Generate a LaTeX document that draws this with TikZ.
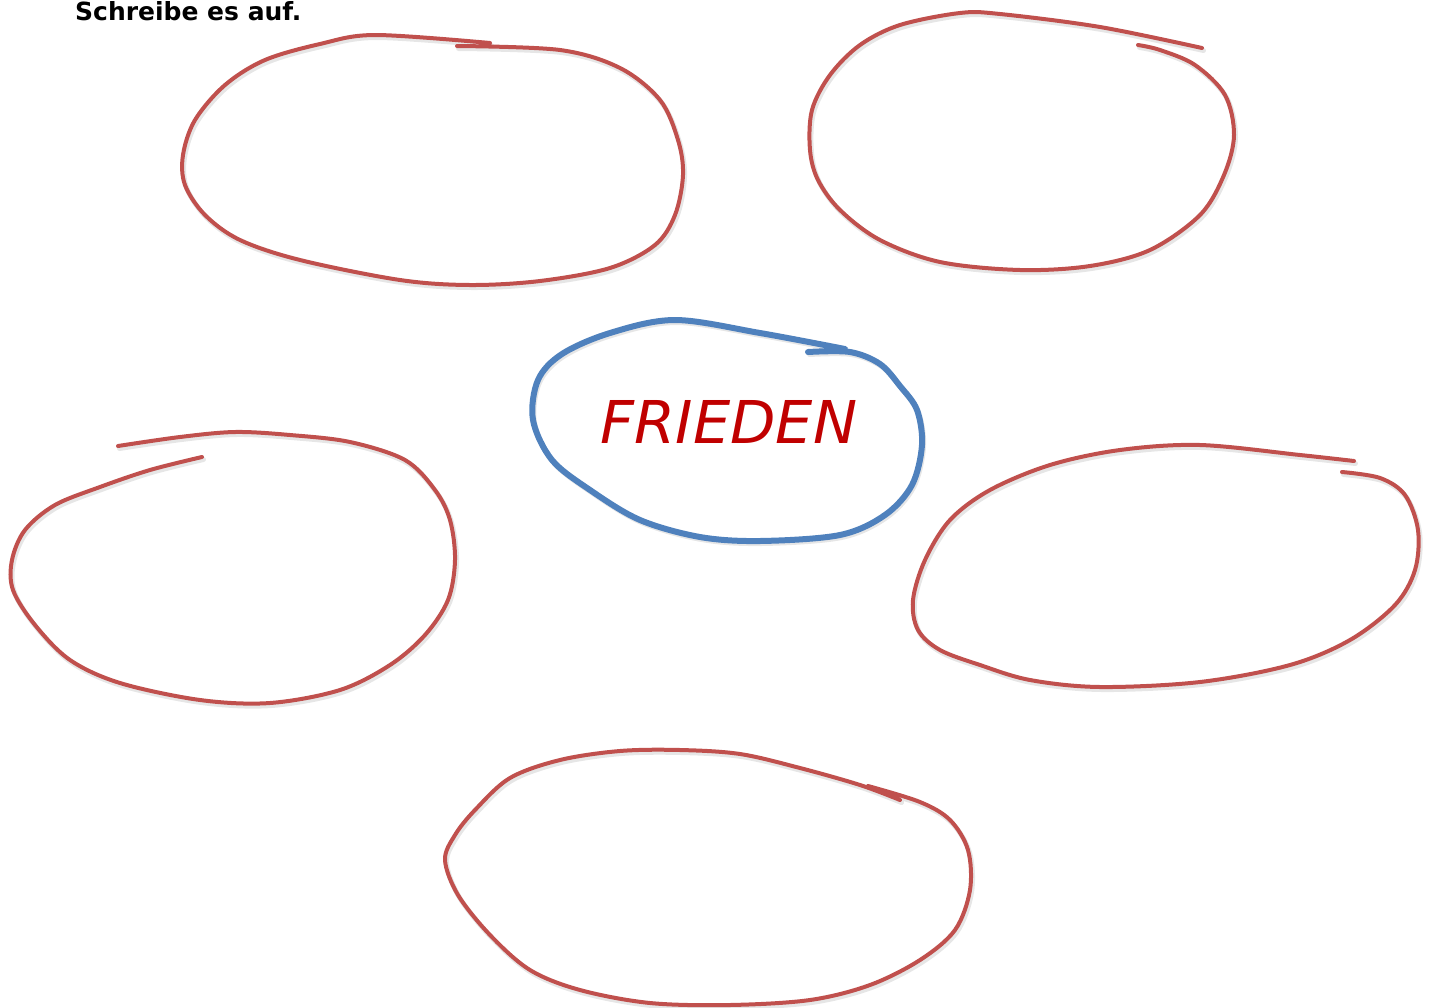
\documentclass[tikz,border=0pt]{standalone}
\usepackage{fontspec}
\setmainfont{DejaVu Sans}
\usepackage{xcolor}
\usepackage{tikz}
\usetikzlibrary{positioning}
\definecolor{penred}{HTML}{C0504D}
\definecolor{penblue}{HTML}{4F81BD}
\definecolor{inkred}{HTML}{C00000}
\definecolor{shade}{HTML}{B8B8B8}

\begin{document}
\begin{tikzpicture}[x=1pt,y=-1pt,
  bubble/.style={draw=penred,line width=4pt,line cap=round,line join=round},
  core/.style={draw=penblue,line width=6pt,line cap=round,line join=round},
  shadow/.style={draw=shade,opacity=0.35,line width=5pt,line cap=round,line join=round}]
\useasboundingbox (0,0) rectangle (1430,1007);
% --- helper: one hand-drawn loop, with shadow --------------------------
\def\scribble#1#2{%
  \draw[shadow,shift={(1.5,2.5)}] plot[smooth,tension=0.55] coordinates {#2};
  \draw[#1] plot[smooth,tension=0.55] coordinates {#2};}
% top left
\scribble{bubble}{(457,46) (560,50) (620,68) (660,100) (678,140) (683,175)
  (675,215) (655,245) (610,268) (540,281) (470,285) (400,280) (300,260)
  (240,240) (205,215) (185,185) (183,155) (195,120) (225,85) (265,60)
  (320,44) (375,35) (490,43)}
% top right
\scribble{bubble}{(1202,48) (1100,27) (1000,14) (960,13) (900,25) (860,45)
  (830,75) (812,110) (810,150) (818,180) (840,210) (880,240) (940,262)
  (1020,270) (1090,266) (1150,250) (1200,215) (1224,175) (1234,135)
  (1225,95) (1195,65) (1160,50) (1138,45)}
% middle left
\scribble{bubble}{(118,446) (180,437) (235,432) (290,435) (350,442) (405,460)
  (435,490) (450,520) (455,560) (448,600) (425,635) (390,665) (340,690)
  (270,703) (200,700) (120,683) (70,660) (35,625) (13,590) (12,560)
  (25,530) (55,505) (100,487) (150,470) (202,457)}
% middle right
\scribble{bubble}{(1354,461) (1300,455) (1200,445) (1120,450) (1050,465)
  (990,490) (950,520) (925,560) (913,600) (918,630) (940,650) (980,665)
  (1030,680) (1100,687) (1200,682) (1290,665) (1350,640) (1395,605)
  (1415,570) (1418,530) (1405,495) (1380,478) (1342,472)}
% bottom
\scribble{bubble}{(900,800) (860,785) (800,768) (740,754) (680,750) (620,751)
  (560,760) (510,778) (475,810) (455,835) (445,860) (458,895) (490,935)
  (530,970) (580,990) (650,1003) (730,1005) (810,1000) (870,985) (920,960)
  (955,930) (970,890) (968,850) (950,820) (920,802) (868,786)}
% centre
\scribble{core}{(808,352) (850,352) (880,364) (900,386) (917,410) (922,445)
  (912,485) (885,515) (840,535) (760,541) (700,537) (640,520) (590,490)
  (552,460) (533,420) (538,380) (562,354) (610,333) (675,320) (760,333)
  (845,349)}
\node[text=inkred,font=\itshape\fontsize{59}{62}\selectfont]
  (frieden) at (729,422) {FRIEDEN};
\node[anchor=north west,inner sep=0pt,font=\bfseries\fontsize{25}{28}\selectfont]
  (task) at (75,1) {Schreibe es auf.};
\end{tikzpicture}
\end{document}
